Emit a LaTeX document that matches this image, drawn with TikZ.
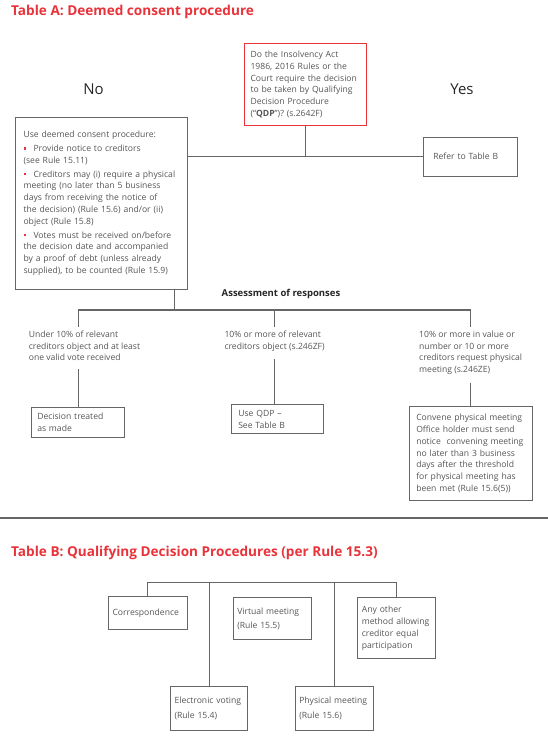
\documentclass[tikz,border=0pt]{standalone}
\usepackage{fontspec}
\setmainfont{Open Sans}
\usepackage{xcolor}
\usetikzlibrary{positioning}
\definecolor{tabred}{HTML}{E8333A}
\definecolor{boxgray}{HTML}{666666}
\definecolor{txtgray}{HTML}{555555}
\tikzset{font={\fontsize{8.6pt}{11.8pt}\selectfont}}
% red bullet with hanging indent
\newcommand{\reditem}{\par\vspace{2pt}\noindent\hangindent=10pt\hangafter=1%
  \makebox[10pt][l]{\textcolor{tabred}{\rule[2pt]{2.2pt}{2.6pt}}}}

\begin{document}
\begin{tikzpicture}[x=1pt,y=-1pt,
    plain box/.style={draw=boxgray,line width=1.1pt,anchor=north west,inner ysep=0pt,align=left,text=txtgray},
    red box/.style={plain box,draw=tabred},
    note/.style={anchor=north west,inner sep=0pt,align=left,text=txtgray},
    heading/.style={anchor=base west,inner sep=0pt,text=tabred,font=\fontsize{13.6pt}{16pt}\selectfont\bfseries},
    answer/.style={text=black!85,font=\fontsize{15pt}{18pt}\selectfont},
    link/.style={draw=boxgray,line width=1.1pt}]

  \useasboundingbox (0,0) rectangle (548,736);

  % Table A
  \node[heading] (titleA) at (11,16) {Table A: Deemed consent procedure};

  \node[red box,text width=110pt,inner xsep=6pt,minimum height=82.3pt] (qdp) at (244,42.7)
    {Do the Insolvency Act\\1986, 2016 Rules or the\\Court require the decision\\to be taken by Qualifying\\Decision Procedure\\(“\textbf{QDP}”)? (s.2642F)};
  \node[answer] (no) at (93.5,89) {No};
  \node[answer] (yes) at (462,89) {Yes};

  \node[plain box,text width=156pt,inner xsep=8pt,minimum height=172.3pt] (deemed) at (15,116.7)
    {Use deemed consent procedure:%
     \reditem Provide notice to creditors\\(see Rule 15.11)%
     \reditem Creditors may (i) require a physical\\meeting (no later than 5 business\\days from receiving the notice of\\the decision) (Rule 15.6) and/or (ii)\\object (Rule 15.8)%
     \reditem Votes must be received on/before\\the decision date and accompanied\\by a proof of debt (unless already\\supplied), to be counted (Rule 15.9)};
  \node[plain box,text width=75.2pt,inner xsep=9.4pt,minimum height=39pt] (refer) at (423.3,136.7) {Refer to Table B};

  \draw[link] (qdp.south) -- (qdp.south |- refer.west);
  \draw[link] (deemed.east |- refer.west) -- (refer.west);

  \node[text=black!85,font=\fontsize{9.5pt}{11pt}\selectfont\bfseries] (assess) at (281,294) {Assessment of responses};

  \node[note] (under) at (28.7,330.5) {Under 10\% of relevant\\creditors object and at least\\one valid vote received};
  \node[note] (tenpc) at (224.3,330.5) {10\% or more of relevant\\creditors object (s.246ZF)};
  \node[note] (moreval) at (419,330.5) {10\% or more in value or\\number or 10 or more\\creditors request physical\\meeting (s.246ZE)};

  \node[plain box,text width=81.6pt,inner xsep=5.7pt,minimum height=29.4pt] (decision) at (31,407.3) {Decision treated\\as made};
  \node[plain box,text width=78.6pt,inner xsep=7pt,minimum height=29.3pt] (usqdp) at (230.7,404) {Use QDP –\\See Table B};
  \node[plain box,text width=109.3pt,inner xsep=7pt,minimum height=94pt] (convene) at (408.7,406)
    {Convene physical meeting\\Office holder must send\\notice~ convening meeting\\no later than 3 business\\days after the threshold\\for physical meeting has\\been met (Rule 15.6(5))};

  \coordinate (split) at (174.7,310);
  \draw[link] (split |- deemed.south) -- (split);
  \draw[link,shorten <=4pt,shorten >=4pt] (decision.north |- under.north) |- (convene.north |- split) -- (convene.north |- moreval.north);
  \draw[link,shorten >=4pt] (tenpc.north |- split) -- (tenpc.north);
  \draw[link,shorten <=8pt] (decision.north |- under.south) -- (decision.north);
  \draw[link,shorten <=8pt] (tenpc.south) -- (tenpc.south |- usqdp.north);
  \draw[link,shorten <=8pt] (convene.north |- moreval.south) -- (convene.north);

  \draw[line width=2.4pt,draw=boxgray] (0,517.7) -- (548,517.7);

  % Table B
  \node[heading] (titleB) at (11,556) {Table B: Qualifying Decision Procedures (per Rule 15.3)};

  \node[plain box,text width=70.4pt,inner xsep=4.3pt,minimum height=33.6pt] (corr) at (107.7,595.7) {Correspondence};
  \node[plain box,text width=70pt,inner xsep=4pt,minimum height=42pt] (virt) at (232.7,597.3) {Virtual meeting\\[2.5pt](Rule 15.5)};
  \node[plain box,text width=70pt,inner xsep=4pt,minimum height=61pt] (other) at (357.3,597.3) {Any other\\method allowing\\creditor equal\\participation};
  \node[plain box,text width=69.3pt,inner xsep=4pt,minimum height=44.3pt] (evote) at (170,685.7) {Electronic voting\\[3pt](Rule 15.4)};
  \node[plain box,text width=70pt,inner xsep=4pt,minimum height=44.3pt] (phys) at (294.7,685.7) {Physical meeting\\[3pt](Rule 15.6)};

  \coordinate (bar) at (0,582.7);
  \draw[link] (corr.north) |- (other.north |- bar) -- (other.north);
  \draw[link] (evote.north) -- (evote.north |- bar);
  \draw[link] (phys.north) -- (phys.north |- bar);
\end{tikzpicture}
\end{document}
